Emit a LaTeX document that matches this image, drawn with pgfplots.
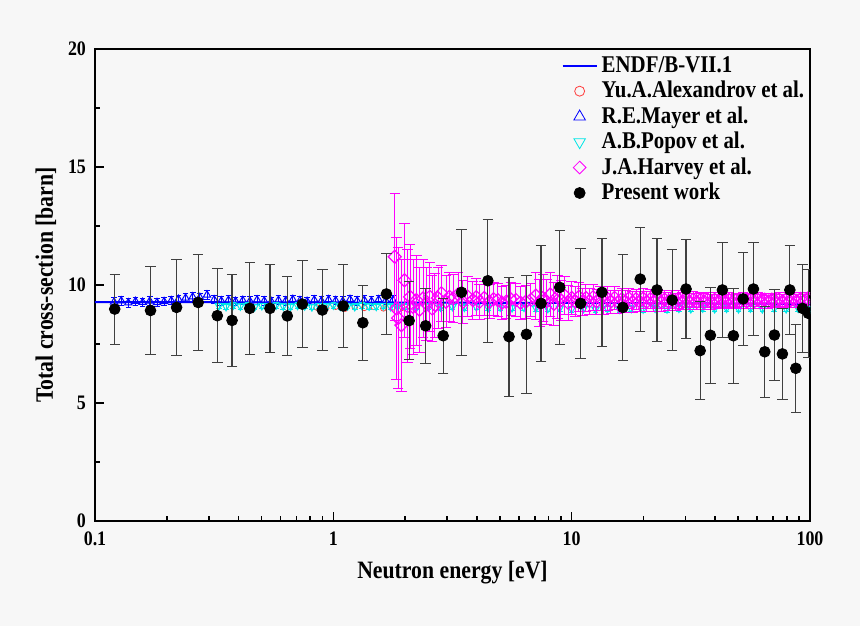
\documentclass[border=0pt]{standalone}
\usepackage{fontspec}
\setmainfont{Liberation Serif}[FakeStretch=0.87]
\usepackage{pgfplots}
\usepackage{pgfplotstable}
\pgfplotsset{compat=1.18}
\definecolor{bgc}{RGB}{247,247,247}
\definecolor{MAG}{RGB}{255,0,255}
\definecolor{CYA}{RGB}{0,230,230}
\definecolor{BLU}{RGB}{0,0,255}
\definecolor{RED}{RGB}{255,60,60}

% ENDF/B-VII.1 evaluation
\pgfplotstableread{
x y
0.1 9.27
0.3 9.27
1 9.26
3 9.25
10 9.24
30 9.22
100 9.20
}\endf

% Yu.A.Alexandrov et al.
\pgfplotstableread{
x y
0.851 9.05
0.933 9.02
1.023 9.08
1.122 9.00
1.230 9.06
1.349 9.03
1.479 9.07
1.622 9.01
1.778 9.05
1.950 9.04
}\alex

% R.E.Mayer et al.
\pgfplotstableread{
x y err
0.1202 9.28 0.18
0.1288 9.33 0.18
0.1380 9.25 0.18
0.1479 9.31 0.18
0.1585 9.27 0.18
0.1698 9.32 0.18
0.1820 9.26 0.18
0.1950 9.30 0.18
0.2089 9.34 0.18
0.2239 9.40 0.18
0.2399 9.45 0.18
0.2570 9.50 0.18
0.2754 9.48 0.18
0.2951 9.58 0.18
0.3162 9.38 0.18
0.3388 9.33 0.18
0.3631 9.36 0.18
0.3890 9.31 0.18
0.4169 9.35 0.18
0.4467 9.32 0.18
0.4786 9.37 0.18
0.5129 9.33 0.18
0.5495 9.30 0.18
0.5888 9.36 0.18
0.6310 9.33 0.18
0.6761 9.39 0.18
0.7244 9.34 0.18
0.7762 9.31 0.18
0.8318 9.37 0.18
0.8913 9.33 0.18
0.9550 9.38 0.18
1.023 9.34 0.18
1.096 9.32 0.18
1.175 9.39 0.18
1.259 9.33 0.18
1.349 9.36 0.18
1.445 9.32 0.18
1.549 9.38 0.18
1.660 9.34 0.18
1.778 9.36 0.18
}\mayer

% A.B.Popov et al.
\pgfplotstableread{
x y err
0.3311 9.12 0.12
0.3548 9.08 0.12
0.3802 9.14 0.12
0.4074 9.10 0.12
0.4365 9.13 0.12
0.4677 9.07 0.12
0.5012 9.12 0.12
0.5370 9.09 0.12
0.5754 9.14 0.12
0.6166 9.10 0.12
0.6607 9.08 0.12
0.7079 9.13 0.12
0.7586 9.11 0.12
0.8128 9.07 0.12
0.8710 9.12 0.12
0.9333 9.10 0.12
1.0 9.14 0.12
1.072 9.09 0.12
1.148 9.11 0.12
1.230 9.08 0.12
1.318 9.13 0.12
1.413 9.10 0.12
1.514 9.09 0.12
1.622 9.12 0.12
1.738 9.08 0.12
1.862 9.11 0.12
1.995 9.09 0.12
2.239 9.07 0.12
2.512 9.10 0.12
2.818 9.06 0.12
3.162 9.08 0.12
3.548 9.05 0.12
3.981 9.07 0.12
4.467 9.04 0.12
5.012 9.06 0.12
5.623 9.03 0.12
6.310 9.05 0.12
7.079 9.02 0.12
7.943 9.00 0.12
8.913 9.02 0.12
10.0 8.98 0.12
11.22 9.00 0.12
12.59 8.97 0.12
14.13 9.00 0.12
15.85 8.97 0.12
17.78 9.00 0.12
19.95 8.98 0.12
22.39 9.01 0.12
25.12 8.98 0.12
28.18 9.01 0.12
31.62 8.99 0.12
35.48 9.02 0.12
39.81 8.99 0.12
44.67 9.01 0.12
50.12 8.99 0.12
56.23 9.02 0.12
63.10 8.99 0.12
70.79 9.01 0.12
79.43 8.99 0.12
89.13 9.01 0.12
100 8.99 0.12
}\popov

% J.A.Harvey et al.
\pgfplotstableread{
x y err
1.81 11.20 2.70
1.84 9.00 3.00
1.87 8.60 3.00
1.93 8.30 2.80
1.99 10.20 2.40
2.05 9.10 2.40
2.10 9.50 2.20
2.16 9.08 2.00
2.23 9.36 1.90
2.30 8.95 1.80
2.38 9.43 1.65
2.46 9.20 1.55
2.54 9.50 1.45
2.60 9.00 1.40
2.67 9.15 1.35
2.75 9.45 1.30
2.84 9.65 1.20
2.97 9.29 1.10
3.07 9.50 1.05
3.18 9.43 1.00
3.34 9.60 0.95
3.50 9.29 0.90
3.67 9.50 0.85
3.85 9.36 0.80
3.98 9.48 0.78
4.11 9.29 0.75
4.30 9.45 0.72
4.52 9.29 0.72
4.70 9.40 0.70
4.90 9.36 0.70
5.10 9.25 0.70
5.31 9.29 0.70
5.55 9.40 0.70
5.84 9.36 0.70
6.10 9.25 0.70
6.42 9.29 0.70
6.75 9.38 0.70
7.079 9.55 1.00
7.328 9.25 1.00
7.586 9.45 1.00
7.852 9.30 0.95
8.128 9.60 0.95
8.414 9.20 0.90
8.710 9.50 0.90
9.016 9.35 0.85
9.333 9.55 0.80
9.661 9.25 0.75
10.00 9.45 0.70
10.35 9.30 0.65
10.72 9.50 0.60
11.09 9.28 0.58
11.48 9.45 0.56
11.89 9.32 0.55
12.30 9.48 0.54
12.74 9.30 0.53
13.18 9.44 0.52
13.65 9.28 0.51
14.13 9.42 0.50
14.62 9.30 0.49
15.14 9.45 0.48
15.67 9.28 0.47
16.22 9.40 0.46
16.79 9.30 0.45
17.38 9.43 0.44
17.99 9.28 0.44
18.62 9.40 0.43
19.28 9.31 0.43
19.95 9.42 0.42
20.65 9.29 0.42
21.38 9.40 0.41
22.13 9.30 0.41
22.91 9.41 0.40
23.71 9.29 0.40
24.55 9.38 0.39
25.41 9.30 0.38
26.30 9.40 0.38
27.23 9.29 0.37
28.18 9.38 0.37
29.17 9.31 0.36
30.20 9.39 0.35
31.26 9.30 0.35
32.36 9.38 0.34
33.50 9.29 0.34
34.67 9.37 0.33
35.89 9.30 0.33
37.15 9.38 0.32
38.46 9.29 0.32
39.81 9.37 0.32
41.21 9.30 0.31
42.66 9.38 0.31
44.16 9.30 0.31
45.71 9.37 0.30
47.32 9.29 0.30
48.98 9.36 0.30
50.70 9.30 0.30
52.48 9.38 0.30
54.33 9.30 0.29
56.23 9.37 0.29
58.21 9.30 0.29
60.26 9.38 0.29
62.37 9.31 0.29
64.57 9.38 0.28
66.83 9.30 0.28
69.18 9.38 0.28
71.61 9.31 0.28
74.13 9.39 0.28
76.74 9.31 0.28
79.43 9.39 0.28
82.22 9.32 0.28
85.11 9.40 0.28
88.10 9.33 0.28
91.20 9.41 0.28
94.41 9.34 0.28
97.72 9.42 0.28
}\harvey

% Present work
\pgfplotstableread{
x y err
0.121 8.98 1.48
0.171 8.92 1.86
0.220 9.05 2.02
0.271 9.26 2.05
0.326 8.70 2.00
0.376 8.50 1.97
0.446 9.01 1.93
0.542 9.01 1.88
0.641 8.69 1.68
0.741 9.19 1.85
0.899 8.94 1.71
1.10 9.11 1.77
1.33 8.40 1.60
1.67 9.62 1.70
2.08 8.49 1.65
2.44 8.27 1.60
2.89 7.85 1.60
3.45 9.69 2.67
4.45 10.18 2.60
5.46 7.81 2.52
6.46 7.91 2.50
7.44 9.22 2.44
8.91 9.90 2.40
10.9 9.22 2.34
13.4 9.69 2.30
16.4 9.05 2.25
19.4 10.25 2.20
22.8 9.79 2.17
26.4 9.36 2.13
30.2 9.83 2.10
34.6 7.22 2.08
38.2 7.87 2.04
42.9 9.79 2.02
47.7 7.85 2.00
52.4 9.41 1.98
57.9 9.83 1.97
64.6 7.17 1.92
70.9 7.88 1.92
76.6 7.08 1.92
82.3 9.79 1.88
87.2 6.47 1.88
93.0 9.01 1.88
98.4 8.80 1.88
}\present

\begin{document}
\begin{tikzpicture}
\fill[bgc, use as bounding box] (-47.5pt,-52.5pt) rectangle (382.5pt,260.5pt);
\begin{axis}[
    scale only axis,
    width=357.5pt, height=236pt,
    xmode=log, log basis x=10,
    xmin=0.1, xmax=100, ymin=0, ymax=20,
    xtick={0.1,1,10,100},
    xticklabels={0.1,1,10,100},
    minor xtick={0.2,0.3,0.4,0.5,0.6,0.7,0.8,0.9,2,3,4,5,6,7,8,9,20,30,40,50,60,70,80,90},
    ytick={0,5,10,15,20},
    minor ytick={2.5,7.5,12.5,17.5},
    tick pos=left,
    tick align=inside,
    major tick length=4.5pt,
    minor tick length=2.5pt,
    every tick/.style={black, line width=0.8pt},
    axis line style={line width=1pt},
    /pgf/number format/assume math mode=true,
    ticklabel style={font=\fontsize{10.3}{12}\selectfont\bfseries},
    xticklabel style={yshift=-2pt},
    yticklabel style={xshift=-1pt},
    xlabel={Neutron energy [eV]},
    ylabel={Total cross-section [barn]},
    label style={font=\fontsize{12.5}{14}\selectfont\bfseries},
    xlabel style={at={(axis description cs:0.5,0)}, anchor=center, yshift=-26pt},
    ylabel style={at={(axis description cs:0,0.5)}, anchor=center, yshift=24.5pt},
    clip marker paths=true,
    legend style={at={(0.652,0.993)}, anchor=north west, draw=none, fill=none,
        inner sep=0pt, font=\fontsize{12}{13}\selectfont\bfseries,
        row sep=-1.1pt, cells={anchor=west}},
    legend cell align=left,
]
\addplot[BLU, line width=1pt, forget plot] table {\endf};
\addplot[only marks, mark=o, mark size=1.4pt, RED, forget plot] table {\alex};
\addplot[only marks, mark=triangle, mark size=2.1pt, BLU, line width=0.5pt,
    mark options={fill=white}, forget plot,
    error bars/.cd, y dir=both, y explicit,
    error bar style={BLU, line width=0.4pt},
    error mark options={rotate=90, mark size=1.4pt, BLU}]
    table[y error=err] {\mayer};
\addplot[only marks, mark=triangle, mark size=2.1pt, CYA, line width=0.5pt,
    mark options={rotate=180, fill=white}, forget plot,
    error bars/.cd, y dir=both, y explicit,
    error bar style={CYA, line width=0.4pt},
    error mark options={rotate=90, mark size=1.4pt, CYA}]
    table[y error=err] {\popov};
\addplot[only marks, mark=square, mark size=2.3pt, MAG, line width=0.6pt,
    mark options={rotate=45, fill=white}, forget plot,
    error bars/.cd, y dir=both, y explicit,
    error bar style={MAG, line width=0.5pt},
    error mark options={rotate=90, mark size=2.6pt, MAG}]
    table[y error=err] {\harvey};
\addplot[only marks, mark=*, mark size=2.7pt, black, forget plot,
    error bars/.cd, y dir=both, y explicit,
    error bar style={black!75, line width=0.6pt},
    error mark options={rotate=90, mark size=2.6pt, black!75}]
    table[y error=err] {\present};

\addlegendimage{BLU, line width=1pt}
\addlegendentry{ENDF/B-VII.1}
\addlegendimage{only marks, mark=o, mark size=2.5pt, RED}
\addlegendentry{Yu.A.Alexandrov et al.}
\addlegendimage{only marks, mark=triangle, mark size=3.3pt, BLU}
\addlegendentry{R.E.Mayer et al.}
\addlegendimage{only marks, mark=triangle, mark size=3.3pt, CYA, mark options={rotate=180}}
\addlegendentry{A.B.Popov et al.}
\addlegendimage{only marks, mark=square, mark size=2.25pt, MAG, mark options={rotate=45}}
\addlegendentry{J.A.Harvey et al.}
\addlegendimage{only marks, mark=*, mark size=2.75pt, black}
\addlegendentry{Present work}
\end{axis}
\end{tikzpicture}
\end{document}
